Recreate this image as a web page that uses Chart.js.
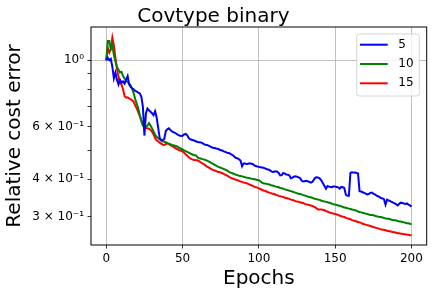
<!DOCTYPE html>
<html><head><meta charset="utf-8">
<script src="https://cdn.jsdelivr.net/npm/chart.js@4.4.1/dist/chart.umd.min.js"></script>
<style>html,body{margin:0;padding:0;background:#fff}#wrap{width:433px;height:295px}</style>
</head><body><div id="wrap"><canvas id="c" width="433" height="295"></canvas></div>
<script>
const chartTitle = 'Covtype binary';
const xLabel = 'Epochs';
const yLabel = 'Relative cost error';
const seriesNames = ['5', '10', '15'];
const seriesColors = ['#0000ff', '#008000', '#ff0000'];
const epochs = Array.from({length: 201}, (_, i) => i);
const xTicks = [0, 50, 100, 150, 200];
const yTickValues = [0.3, 0.4, 0.5, 0.6, 0.7, 0.8, 0.9, 1];
const yTickLabels = ['3 × 10⁻¹', '4 × 10⁻¹', '', '6 × 10⁻¹', '', '', '', '10⁰'];

const err5 = [
1.0,1.02,1.0,1.01,0.95,0.87,0.91,0.86,0.83,0.86,
0.84,0.85,0.835,0.86,0.885,0.83,0.815,0.805,0.8,0.79,
0.785,0.78,0.775,0.755,0.7,0.56,0.665,0.69,0.68,0.673,
0.665,0.655,0.675,0.645,0.595,0.55,0.541,0.541,0.545,0.58,
0.588,0.592,0.585,0.578,0.575,0.572,0.568,0.563,0.56,0.558,
0.559,0.565,0.567,0.562,0.55,0.544,0.542,0.54,0.538,0.535,
0.533,0.532,0.531,0.528,0.524,0.522,0.521,0.518,0.515,0.512,
0.51,0.509,0.507,0.506,0.503,0.5,0.499,0.496,0.494,0.491,
0.49,0.488,0.484,0.481,0.476,0.471,0.47,0.466,0.462,0.442,
0.452,0.452,0.449,0.451,0.452,0.451,0.45,0.445,0.443,0.441,
0.44,0.439,0.438,0.437,0.435,0.433,0.431,0.43,0.426,0.423,
0.424,0.425,0.424,0.42,0.412,0.413,0.42,0.418,0.415,0.414,
0.412,0.403,0.405,0.408,0.409,0.408,0.406,0.404,0.396,0.393,
0.394,0.395,0.394,0.392,0.39,0.392,0.398,0.405,0.406,0.405,
0.402,0.396,0.388,0.38,0.372,0.38,0.378,0.377,0.376,0.379,
0.378,0.377,0.376,0.372,0.377,0.376,0.374,0.355,0.352,0.352,
0.42,0.422,0.421,0.421,0.42,0.418,0.365,0.364,0.362,0.36,
0.358,0.356,0.357,0.36,0.361,0.358,0.356,0.353,0.351,0.349,
0.346,0.345,0.343,0.329,0.342,0.34,0.338,0.336,0.334,0.332,
0.33,0.327,0.331,0.334,0.333,0.332,0.331,0.332,0.329,0.327,
0.324];

const err10 = [
1.0,1.16,1.16,1.09,1.12,1.04,0.99,0.95,0.93,0.91,
0.915,0.885,0.87,0.855,0.845,0.835,0.825,0.8,0.775,0.74,
0.715,0.69,0.655,0.625,0.605,0.595,0.6,0.605,0.616,0.605,
0.592,0.578,0.563,0.555,0.549,0.543,0.538,0.535,0.534,0.532,
0.528,0.526,0.524,0.521,0.52,0.518,0.516,0.513,0.509,0.506,
0.503,0.5,0.497,0.494,0.491,0.488,0.485,0.483,0.481,0.48,
0.472,0.47,0.469,0.467,0.466,0.464,0.462,0.459,0.456,0.453,
0.45,0.447,0.444,0.441,0.439,0.437,0.435,0.433,0.431,0.428,
0.425,0.422,0.42,0.418,0.416,0.414,0.413,0.411,0.41,0.409,
0.408,0.406,0.405,0.404,0.403,0.402,0.401,0.4,0.399,0.398,
0.397,0.394,0.39,0.388,0.387,0.386,0.385,0.384,0.382,0.381,
0.38,0.378,0.377,0.376,0.374,0.373,0.372,0.37,0.369,0.368,
0.366,0.365,0.364,0.362,0.361,0.359,0.358,0.357,0.356,0.354,
0.353,0.352,0.35,0.349,0.348,0.347,0.345,0.344,0.343,0.342,
0.341,0.339,0.338,0.337,0.336,0.335,0.334,0.333,0.331,0.33,
0.329,0.328,0.327,0.326,0.325,0.323,0.322,0.321,0.32,0.319,
0.318,0.317,0.316,0.315,0.314,0.312,0.311,0.31,0.309,0.308,
0.307,0.306,0.305,0.304,0.304,0.303,0.302,0.301,0.3,0.299,
0.299,0.298,0.297,0.296,0.295,0.295,0.294,0.293,0.292,0.292,
0.291,0.29,0.289,0.289,0.288,0.287,0.286,0.285,0.285,0.284,
0.283];

const err15 = [
1.0,1.1,1.06,1.09,1.19,1.12,1.02,0.94,0.88,0.84,
0.83,0.8,0.76,0.75,0.752,0.745,0.74,0.735,0.725,0.705,
0.69,0.67,0.65,0.63,0.61,0.597,0.592,0.592,0.59,0.585,
0.577,0.565,0.55,0.54,0.535,0.53,0.526,0.522,0.521,0.524,
0.527,0.524,0.52,0.517,0.513,0.509,0.506,0.503,0.5,0.498,
0.496,0.491,0.485,0.48,0.474,0.47,0.467,0.465,0.464,0.463,
0.462,0.459,0.455,0.452,0.449,0.445,0.441,0.438,0.435,0.432,
0.43,0.428,0.426,0.424,0.423,0.421,0.419,0.417,0.414,0.412,
0.409,0.406,0.404,0.402,0.4,0.399,0.397,0.395,0.393,0.392,
0.39,0.389,0.388,0.386,0.384,0.382,0.38,0.378,0.376,0.375,
0.373,0.371,0.369,0.367,0.366,0.364,0.362,0.361,0.359,0.358,
0.357,0.355,0.354,0.352,0.351,0.35,0.349,0.347,0.346,0.345,
0.344,0.342,0.341,0.34,0.338,0.337,0.336,0.335,0.334,0.333,
0.331,0.33,0.329,0.328,0.327,0.326,0.324,0.322,0.319,0.317,
0.317,0.317,0.316,0.315,0.313,0.312,0.31,0.309,0.308,0.307,
0.306,0.305,0.304,0.302,0.301,0.3,0.299,0.297,0.296,0.295,
0.294,0.292,0.291,0.29,0.289,0.288,0.287,0.286,0.284,0.283,
0.282,0.281,0.28,0.279,0.278,0.277,0.276,0.275,0.274,0.273,
0.272,0.271,0.271,0.27,0.269,0.268,0.268,0.267,0.266,0.266,
0.265,0.264,0.264,0.263,0.263,0.262,0.262,0.261,0.261,0.26,
0.26];

const seriesValues = [err5, err10, err15];
const FONT = 'DejaVu Sans';

const framePlugin = {
  id: 'frame',
  afterDatasetsDraw(chart) {
    const a = chart.chartArea, ctx = chart.ctx;
    ctx.save();
    ctx.strokeStyle = '#000';
    ctx.lineWidth = 1;
    ctx.strokeRect(a.left, a.top, a.right - a.left, a.bottom - a.top);
    ctx.restore();
  }
};

const legendPlugin = {
  id: 'mplLegend',
  afterDraw(chart) {
    const a = chart.chartArea, ctx = chart.ctx;
    const w = 62.6, h = 62, r = 2.5;
    const x0 = a.right - 7.4 - w, y0 = a.top + 7;
    ctx.save();
    ctx.beginPath();
    ctx.moveTo(x0 + r, y0);
    ctx.lineTo(x0 + w - r, y0); ctx.quadraticCurveTo(x0 + w, y0, x0 + w, y0 + r);
    ctx.lineTo(x0 + w, y0 + h - r); ctx.quadraticCurveTo(x0 + w, y0 + h, x0 + w - r, y0 + h);
    ctx.lineTo(x0 + r, y0 + h); ctx.quadraticCurveTo(x0, y0 + h, x0, y0 + h - r);
    ctx.lineTo(x0, y0 + r); ctx.quadraticCurveTo(x0, y0, x0 + r, y0);
    ctx.closePath();
    ctx.fillStyle = 'rgba(255,255,255,0.8)';
    ctx.fill();
    ctx.strokeStyle = 'rgba(204,204,204,0.8)';
    ctx.lineWidth = 1;
    ctx.stroke();
    chart.data.datasets.forEach((ds, i) => {
      const y = y0 + 10.7 + i * 19.3;
      ctx.beginPath();
      ctx.moveTo(x0 + 3.3, y);
      ctx.lineTo(x0 + 31, y);
      ctx.strokeStyle = ds.borderColor;
      ctx.lineWidth = 2;
      ctx.stroke();
      ctx.fillStyle = '#000';
      ctx.font = '12px "' + FONT + '"';
      ctx.textBaseline = 'middle';
      ctx.textAlign = 'left';
      ctx.fillText(ds.label, x0 + 41.6, y);
    });
    ctx.restore();
  }
};

new Chart(document.getElementById('c'), {
  type: 'line',
  data: {
    datasets: seriesValues.map((vals, k) => ({
      label: seriesNames[k],
      data: vals.map((v, i) => ({x: epochs[i], y: v})),
      borderColor: seriesColors[k],
      backgroundColor: seriesColors[k],
      borderWidth: 2,
      pointRadius: 0,
      fill: false,
      tension: 0
    }))
  },
  options: {
    responsive: false,
    animation: false,
    devicePixelRatio: 1,
    layout: {padding: {left: 0, right: 6.3, top: 0, bottom: 0}},
    plugins: {
      legend: {display: false},
      tooltip: {enabled: false},
      title: {
        display: true, text: chartTitle, color: '#000',
        font: {family: FONT, size: 20, weight: 'normal', lineHeight: 1},
        padding: {top: 6.4, bottom: 0.6}
      }
    },
    scales: {
      x: {
        type: 'linear', min: -10, max: 210,
        afterBuildTicks: s => { s.ticks = xTicks.map(v => ({value: v})); },
        afterFit: s => { s.height = 50; },
        border: {display: false},
        grid: {color: '#b0b0b0', lineWidth: 0.8, tickLength: 3.5, tickColor: '#000', tickWidth: 0.8, drawTicks: true},
        ticks: {color: '#000', font: {family: FONT, size: 12}, padding: 3.5, maxRotation: 0, autoSkip: false,
                callback: v => String(v)},
        title: {display: true, text: xLabel, color: '#000', font: {family: FONT, size: 20}, padding: {top: 0, bottom: 4.5}}
      },
      y: {
        type: 'logarithmic', min: 0.2411, max: 1.292,
        afterBuildTicks: s => { s.ticks = yTickValues.map(v => ({value: v, major: v === 1})); },
        afterFit: s => { s.width = 91; },
        border: {display: false},
        grid: {
          color: c => (c.tick && c.tick.value === 1) ? '#b0b0b0' : 'rgba(0,0,0,0)',
          lineWidth: 0.8, tickLength: 3.5, tickColor: '#000', tickWidth: 0.8, drawTicks: true
        },
        ticks: {color: '#000', font: {family: FONT, size: 12}, padding: 3.5, autoSkip: false,
                callback: (v, i) => yTickLabels[yTickValues.indexOf(v)] ?? ''},
        title: {display: true, text: yLabel, color: '#000', font: {family: FONT, size: 20}, padding: {top: 3, bottom: 0}}
      }
    }
  },
  plugins: [framePlugin, legendPlugin]
});
</script>
</body></html>
